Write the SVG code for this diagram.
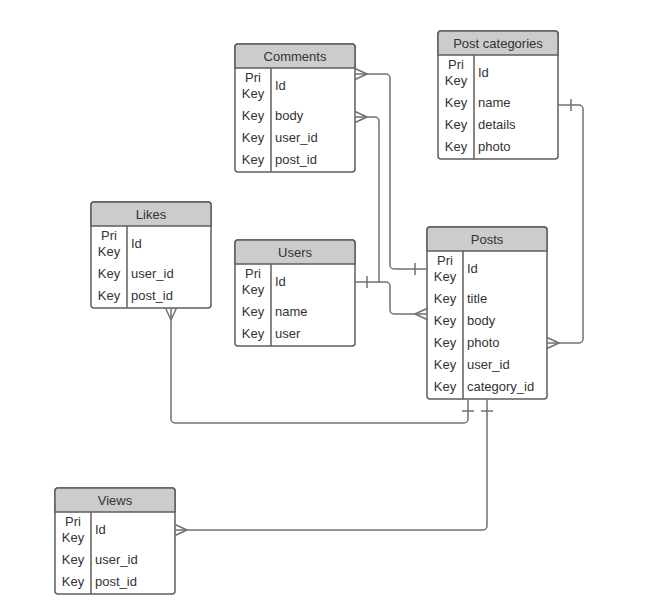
<svg xmlns="http://www.w3.org/2000/svg" width="665" height="614" viewBox="0 0 665 614">
  <style>
    .box { fill: #ffffff; stroke: #5e5e5e; stroke-width: 1.5; }
    .head { fill: #cccccc; stroke: #5e5e5e; stroke-width: 1.5; }
    .sep { stroke: #5e5e5e; stroke-width: 1.5; fill: none; }
    .title { font-family: "Liberation Sans", Arial, sans-serif; font-size: 13px; fill: #333333; text-anchor: middle; }
    .key { font-family: "Liberation Sans", Arial, sans-serif; font-size: 13px; fill: #333333; text-anchor: middle; }
    .field { font-family: "Liberation Sans", Arial, sans-serif; font-size: 13px; fill: #333333; }
    .link { fill: none; stroke: #707070; stroke-width: 1.5; stroke-linejoin: round; }
  </style>
  <rect width="665" height="614" fill="#ffffff"/>

  <!-- Comments -->
  <g id="comments">
    <rect class="box" x="235" y="44" width="120" height="128" rx="3"/>
    <path class="head" d="M235 68 V47 a3 3 0 0 1 3 -3 H352 a3 3 0 0 1 3 3 V68 Z"/>
    <line class="sep" x1="271" y1="68" x2="271" y2="172"/>
    <text class="title" x="295" y="60.5">Comments</text>
    <text class="key" x="253" y="81.5">Pri</text>
    <text class="key" x="253" y="97.5">Key</text>
    <text class="field" x="275" y="90">Id</text>
    <text class="key" x="253" y="119.5">Key</text>
    <text class="field" x="275" y="119.5">body</text>
    <text class="key" x="253" y="141.5">Key</text>
    <text class="field" x="275" y="141.5">user_id</text>
    <text class="key" x="253" y="163.5">Key</text>
    <text class="field" x="275" y="163.5">post_id</text>
  </g>

  <!-- Post categories -->
  <g id="post-categories">
    <rect class="box" x="438" y="31" width="120" height="128" rx="3"/>
    <path class="head" d="M438 55 V34 a3 3 0 0 1 3 -3 H555 a3 3 0 0 1 3 3 V55 Z"/>
    <line class="sep" x1="474" y1="55" x2="474" y2="159"/>
    <text class="title" x="498" y="47.5">Post categories</text>
    <text class="key" x="456" y="68.5">Pri</text>
    <text class="key" x="456" y="84.5">Key</text>
    <text class="field" x="478" y="77">Id</text>
    <text class="key" x="456" y="106.5">Key</text>
    <text class="field" x="478" y="106.5">name</text>
    <text class="key" x="456" y="128.5">Key</text>
    <text class="field" x="478" y="128.5">details</text>
    <text class="key" x="456" y="150.5">Key</text>
    <text class="field" x="478" y="150.5">photo</text>
  </g>

  <!-- Likes -->
  <g id="likes">
    <rect class="box" x="91" y="202" width="120" height="106" rx="3"/>
    <path class="head" d="M91 226 V205 a3 3 0 0 1 3 -3 H208 a3 3 0 0 1 3 3 V226 Z"/>
    <line class="sep" x1="127" y1="226" x2="127" y2="308"/>
    <text class="title" x="151" y="218.5">Likes</text>
    <text class="key" x="109" y="239.5">Pri</text>
    <text class="key" x="109" y="255.5">Key</text>
    <text class="field" x="131" y="248">Id</text>
    <text class="key" x="109" y="277.5">Key</text>
    <text class="field" x="131" y="277.5">user_id</text>
    <text class="key" x="109" y="299.5">Key</text>
    <text class="field" x="131" y="299.5">post_id</text>
  </g>

  <!-- Users -->
  <g id="users">
    <rect class="box" x="235" y="240" width="120" height="106" rx="3"/>
    <path class="head" d="M235 264 V243 a3 3 0 0 1 3 -3 H352 a3 3 0 0 1 3 3 V264 Z"/>
    <line class="sep" x1="271" y1="264" x2="271" y2="346"/>
    <text class="title" x="295" y="256.5">Users</text>
    <text class="key" x="253" y="277.5">Pri</text>
    <text class="key" x="253" y="293.5">Key</text>
    <text class="field" x="275" y="286">Id</text>
    <text class="key" x="253" y="315.5">Key</text>
    <text class="field" x="275" y="315.5">name</text>
    <text class="key" x="253" y="337.5">Key</text>
    <text class="field" x="275" y="337.5">user</text>
  </g>

  <!-- Posts -->
  <g id="posts">
    <rect class="box" x="427" y="227" width="120" height="172" rx="3"/>
    <path class="head" d="M427 251 V230 a3 3 0 0 1 3 -3 H544 a3 3 0 0 1 3 3 V251 Z"/>
    <line class="sep" x1="463" y1="251" x2="463" y2="399"/>
    <text class="title" x="487" y="243.5">Posts</text>
    <text class="key" x="445" y="264.5">Pri</text>
    <text class="key" x="445" y="280.5">Key</text>
    <text class="field" x="467" y="273">Id</text>
    <text class="key" x="445" y="302.5">Key</text>
    <text class="field" x="467" y="302.5">title</text>
    <text class="key" x="445" y="324.5">Key</text>
    <text class="field" x="467" y="324.5">body</text>
    <text class="key" x="445" y="346.5">Key</text>
    <text class="field" x="467" y="346.5">photo</text>
    <text class="key" x="445" y="368.5">Key</text>
    <text class="field" x="467" y="368.5">user_id</text>
    <text class="key" x="445" y="390.5">Key</text>
    <text class="field" x="467" y="390.5">category_id</text>
  </g>

  <!-- Views -->
  <g id="views">
    <rect class="box" x="55" y="488" width="120" height="106" rx="3"/>
    <path class="head" d="M55 512 V491 a3 3 0 0 1 3 -3 H172 a3 3 0 0 1 3 3 V512 Z"/>
    <line class="sep" x1="91" y1="512" x2="91" y2="594"/>
    <text class="title" x="115" y="504.5">Views</text>
    <text class="key" x="73" y="525.5">Pri</text>
    <text class="key" x="73" y="541.5">Key</text>
    <text class="field" x="95" y="534">Id</text>
    <text class="key" x="73" y="563.5">Key</text>
    <text class="field" x="95" y="563.5">user_id</text>
    <text class="key" x="73" y="585.5">Key</text>
    <text class="field" x="95" y="585.5">post_id</text>
  </g>

  <!-- Relationship lines -->
  <g id="connectors">
    <!-- Comments.Id >——| Posts.Id -->
    <path class="link" d="M355 74 H386 a4 4 0 0 1 4 4 V265 a4 4 0 0 0 4 4 H427"/>
    <path class="link" d="M355 68.5 L367 74 L355 79.5"/>
    <path class="link" d="M415 263 V275"/>

    <!-- Users.Id |——< Comments.body -->
    <path class="link" d="M355 117 H375 a4 4 0 0 1 4 4 V282 H355"/>
    <path class="link" d="M355 111.5 L367 117 L355 122.5"/>
    <path class="link" d="M367 276 V288"/>

    <!-- Users.Id |——< Posts.body -->
    <path class="link" d="M379 282 H386 a4 4 0 0 1 4 4 V310 a4 4 0 0 0 4 4 H427"/>
    <path class="link" d="M427 308.5 L415 314 L427 319.5"/>

    <!-- Post categories.name |——< Posts.photo -->
    <path class="link" d="M558 105 H579 a4 4 0 0 1 4 4 V339 a4 4 0 0 1 -4 4 H547"/>
    <path class="link" d="M571 99 V111"/>
    <path class="link" d="M547 337.5 L559 343 L547 348.5"/>

    <!-- Likes.post_id >——| Posts -->
    <path class="link" d="M171 308 V419 a4 4 0 0 0 4 4 H464 a4 4 0 0 0 4 -4 V399"/>
    <path class="link" d="M165.5 308 L171 320 L176.5 308"/>
    <path class="link" d="M462 411 H474"/>

    <!-- Views.Id >——| Posts -->
    <path class="link" d="M175 530 H483 a4 4 0 0 0 4 -4 V399"/>
    <path class="link" d="M175 524.5 L187 530 L175 535.5"/>
    <path class="link" d="M481 411 H493"/>
  </g>
</svg>
